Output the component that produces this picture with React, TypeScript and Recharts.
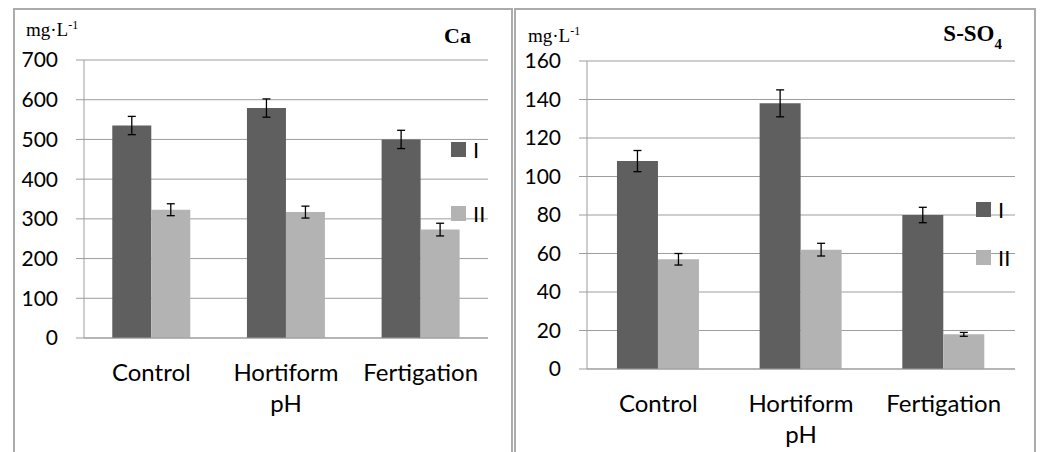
import React from 'react'
import { Bar, BarChart, CartesianGrid, ErrorBar, Legend, XAxis, YAxis } from 'recharts'

const categories = ['Control', 'Hortiform pH', 'Fertigation']

const caI = [535, 579, 500]
const caIErr = [23, 23, 23]
const caII = [323, 317, 273]
const caIIErr = [15, 15, 16]
const caTicks = [0, 100, 200, 300, 400, 500, 600, 700]

const so4I = [108, 138, 80]
const so4IErr = [5.5, 7, 4]
const so4II = [57, 62, 18]
const so4IIErr = [3, 3.3, 1]
const so4Ticks = [0, 20, 40, 60, 80, 100, 120, 140, 160]

// category boundaries for the tick marks under the x axis
const bounds = categories.map((_, i) => i).concat(categories.length)

const DARK = '#5f5f5f'
const LIGHT = '#b3b3b3'
const GRID = '#9d9d9d'
const FONT = 'Lato, "Open Sans", sans-serif'
const SERIF = '"Liberation Serif", "DejaVu Serif", serif'

const caData = categories.map((name, i) => ({
  name,
  I: caI[i],
  errI: caIErr[i],
  II: caII[i],
  errII: caIIErr[i],
}))

const so4Data = categories.map((name, i) => ({
  name,
  I: so4I[i],
  errI: so4IErr[i],
  II: so4II[i],
  errII: so4IIErr[i],
}))

function CategoryTick({ x, y, payload }: any) {
  const lines = String(payload.value).split(' ')
  return (
    <text x={x} y={y} textAnchor="middle" fontFamily={FONT} fontSize={24} fill="#000">
      {lines.map((line, i) => (
        <tspan key={i} x={x} dy={i === 0 ? 42 : 31}>
          {line}
        </tspan>
      ))}
    </text>
  )
}

const makeLegend = (gap: number) => (props: any) => {
  const items = props.payload || []
  return (
    <div style={{ fontFamily: FONT, fontSize: 22, color: '#000' }}>
      {items.map((item: any, i: number) => (
        <div
          key={i}
          style={{ display: 'flex', alignItems: 'center', height: 15, marginBottom: gap - 15 }}
        >
          <span style={{ width: 15, height: 15, background: item.color, display: 'inline-block' }} />
          <span style={{ marginLeft: 7, lineHeight: '15px' }}>{item.value}</span>
        </div>
      ))}
    </div>
  )
}

type PanelProps = {
  data: typeof caData
  ticks: number[]
  left: number
  width: number
  yAxisWidth: number
  margin: { top: number; right: number; bottom: number; left: number }
  legend: { left: number; top: number; gap: number }
}

function Panel({ data, ticks, left, width, yAxisWidth, margin, legend }: PanelProps) {
  return (
    <div style={{ position: 'absolute', left, top: 0 }}>
      <BarChart
        width={width}
        height={452}
        data={data}
        margin={margin}
        barCategoryGap="21%"
        barGap={0}
      >
        <CartesianGrid stroke={GRID} vertical={false} />
        <XAxis
          xAxisId={0}
          type="number"
          domain={[0, bounds.length - 1]}
          ticks={bounds}
          allowDataOverflow
          tick={false}
          tickSize={7}
          height={1}
          axisLine={{ stroke: GRID }}
          tickLine={{ stroke: GRID }}
        />
        <XAxis
          xAxisId="cat"
          dataKey="name"
          height={60}
          axisLine={false}
          tickLine={false}
          tickSize={0}
          tickMargin={0}
          interval={0}
          tick={<CategoryTick />}
        />
        <YAxis
          width={yAxisWidth}
          domain={[ticks[0], ticks[ticks.length - 1]]}
          ticks={ticks}
          interval={0}
          tickSize={8}
          tickMargin={18}
          axisLine={{ stroke: GRID }}
          tickLine={{ stroke: GRID }}
          tick={{ fill: '#000', fontSize: 21, fontFamily: FONT }}
        />
        <Legend
          layout="vertical"
          align="center"
          verticalAlign="middle"
          content={makeLegend(legend.gap)}
          wrapperStyle={{ left: legend.left, top: legend.top, width: 60 }}
        />
        <Bar xAxisId="cat" dataKey="I" name="I" fill={DARK} isAnimationActive={false}>
          <ErrorBar dataKey="errI" width={4} stroke="#000" strokeWidth={1.3} direction="y" />
        </Bar>
        <Bar xAxisId="cat" dataKey="II" name="II" fill={LIGHT} isAnimationActive={false}>
          <ErrorBar dataKey="errII" width={4} stroke="#000" strokeWidth={1.3} direction="y" />
        </Bar>
      </BarChart>
    </div>
  )
}

const frame = (left: number, width: number): React.CSSProperties => ({
  position: 'absolute',
  left,
  top: 8,
  width,
  height: 470,
  boxSizing: 'border-box',
  borderTop: '2px solid #ababab',
  borderLeft: '2px solid #ababab',
  borderRight: '2px solid #ababab',
})

export default function App() {
  return (
    <div
      style={{
        position: 'absolute',
        left: 0,
        top: 0,
        width: 1043,
        height: 452,
        overflow: 'hidden',
        background: '#fff',
      }}
    >
      <div style={frame(13, 500)} />
      <div style={frame(514, 522)} />

      <Panel
        data={caData}
        ticks={caTicks}
        left={14}
        width={498}
        yAxisWidth={70}
        margin={{ top: 60, right: 24, bottom: 53, left: 0 }}
        legend={{ left: 437, top: 142, gap: 64 }}
      />
      <Panel
        data={so4Data}
        ticks={so4Ticks}
        left={514}
        width={521}
        yAxisWidth={73}
        margin={{ top: 61, right: 20, bottom: 22, left: 0 }}
        legend={{ left: 462, top: 202, gap: 48 }}
      />

      <svg width={1043} height={452} style={{ position: 'absolute', left: 0, top: 0, pointerEvents: 'none' }}>
        <text x={26} y={36} fontFamily={SERIF} fontSize={19} fill="#000">
          mg·L<tspan dy={-7} fontSize={12}>-1</tspan>
        </text>
        <text x={471} y={43} textAnchor="end" fontFamily={SERIF} fontSize={22} fontWeight="bold" fill="#000">
          Ca
        </text>
        <text x={528} y={42} fontFamily={SERIF} fontSize={19} fill="#000">
          mg·L<tspan dy={-7} fontSize={12}>-1</tspan>
        </text>
        <text x={1002} y={41} textAnchor="end" fontFamily={SERIF} fontSize={23} fontWeight="bold" fill="#000">
          S-SO<tspan dy={8} fontSize={15}>4</tspan>
        </text>
      </svg>
    </div>
  )
}
